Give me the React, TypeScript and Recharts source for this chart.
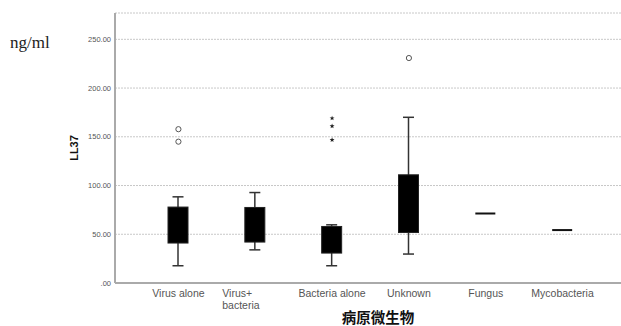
import React from "react";
import { ComposedChart, Bar, Scatter, XAxis, YAxis, CartesianGrid } from "recharts";

const categories = ["Virus alone", "Virus+\nbacteria", "Bacteria alone", "Unknown", "Fungus", "Mycobacteria"];
const whiskerLow = [17.7, 34, 17.7, 29.7, null, null];
const whiskerHigh = [88.4, 92.8, 59.7, 170, null, null];
const boxLow = [41, 42, 30.7, 51.8, 71.3, 54.3];
const boxHigh = [77.9, 77.5, 58, 111, 71.3, 54.3];
const circleOutlier1 = [157.8, null, null, 230.8, null, null];
const circleOutlier2 = [145, null, null, null, null, null];
const starOutlier1 = [null, null, 169, null, null, null];
const starOutlier2 = [null, null, 161, null, null, null];
const starOutlier3 = [null, null, 146.8, null, null, null];
const yTicks = [0, 50, 100, 150, 200, 250];

const data = categories.map((name, i) => ({
  name,
  wLow: whiskerLow[i],
  wHigh: whiskerHigh[i],
  bLow: boxLow[i],
  bHigh: boxHigh[i],
  c1: circleOutlier1[i],
  c2: circleOutlier2[i],
  s1: starOutlier1[i],
  s2: starOutlier2[i],
  s3: starOutlier3[i],
}));

const FONT = "'Liberation Sans', Arial, sans-serif";

const WhiskerShape = (props: any) => {
  const { x, y, width, height } = props;
  if (x == null || y == null || !isFinite(y) || !isFinite(height)) return null;
  const cx = x + width / 2;
  const top = Math.min(y, y + height);
  const bot = Math.max(y, y + height);
  return (
    <g stroke="#333" strokeWidth={1.5}>
      <line x1={cx} x2={cx} y1={top} y2={bot} />
      <line x1={cx - 5.5} x2={cx + 5.5} y1={top} y2={top} />
      <line x1={cx - 5.5} x2={cx + 5.5} y1={bot} y2={bot} />
    </g>
  );
};

const BoxShape = (props: any) => {
  const { x, y, width, height } = props;
  if (x == null || y == null || !isFinite(y)) return null;
  const top = Math.min(y, y + height);
  const h = Math.abs(height);
  if (h < 1) {
    return <line x1={x} x2={x + width} y1={y} y2={y} stroke="#111" strokeWidth={2} />;
  }
  return <rect x={x} y={top} width={width} height={h} fill="#000" stroke="#222" strokeWidth={1} />;
};

const CircleShape = (props: any) => {
  const { cx, cy } = props;
  if (cx == null || cy == null || !isFinite(cx) || !isFinite(cy)) return null;
  return <circle cx={cx} cy={cy} r={2.6} fill="#fff" stroke="#555" strokeWidth={1} />;
};

const StarShape = (props: any) => {
  const { cx, cy } = props;
  if (cx == null || cy == null || !isFinite(cx) || !isFinite(cy)) return null;
  const pts: string[] = [];
  for (let k = 0; k < 10; k++) {
    const r = k % 2 === 0 ? 2.6 : 1.1;
    const a = -Math.PI / 2 + (k * Math.PI) / 5;
    pts.push(`${cx + r * Math.cos(a)},${cy + r * Math.sin(a)}`);
  }
  return <polygon points={pts.join(" ")} fill="#222" />;
};

const XTick = (props: any) => {
  const { x, y, payload } = props;
  const lines = String(payload.value).split("\n");
  const multi = lines.length > 1;
  return (
    <g>
      {lines.map((ln, i) => (
        <text
          key={i}
          x={multi ? x - 33 : x}
          y={y + 11 + i * 12}
          textAnchor={multi ? "start" : "middle"}
          fontFamily={FONT}
          fontSize={10.5}
          fill="#555"
        >
          {ln}
        </text>
      ))}
    </g>
  );
};

const YTick = (props: any) => {
  const { x, y, payload } = props;
  return (
    <text x={x} y={y + 2.5} textAnchor="end" fontFamily={FONT} fontSize={7.5} fill="#555">
      {yFmt(payload.value)}
    </text>
  );
};

const yFmt = (v: number) => (v === 0 ? ".00" : v.toFixed(2));

export default function App() {
  return (
    <div style={{ position: "absolute", left: 0, top: 0, width: 621, height: 326, background: "#fff" }}>
      <ComposedChart
        width={621}
        height={326}
        data={data}
        margin={{ top: 13, right: 0, bottom: 13, left: 0 }}
      >
        <CartesianGrid vertical={false} stroke="#c8c8c8" strokeDasharray="2 1" />
        <XAxis
          dataKey="name"
          type="category"
          padding={{ left: 25, right: 20 }}
          height={30}
          tickLine={false}
          tickSize={0}
          tickMargin={3}
          axisLine={{ stroke: "#aaa", strokeWidth: 2 }}
          tick={<XTick />}
          interval={0}
        />
        <XAxis xAxisId="w" dataKey="name" type="category" hide padding={{ left: 25, right: 20 }} />
        <YAxis
          width={115}
          domain={[0, 277]}
          ticks={yTicks}
          tickLine={false}
          tickSize={0}
          tickMargin={4}
          axisLine={{ stroke: "#aaa", strokeWidth: 2 }}
          tick={<YTick />}
          allowDataOverflow
          label={{
            value: "LL37",
            angle: -90,
            position: "insideLeft",
            offset: 0,
            dx: 74,
            dy: 0,
            style: { fontFamily: FONT, fontSize: 11, fontWeight: "bold", fill: "#111", textAnchor: "middle" },
          }}
        />
        <Bar
          xAxisId="w"
          dataKey={(d: any) => (d.wLow == null ? null : [d.wLow, d.wHigh])}
          barSize={20}
          shape={<WhiskerShape />}
          isAnimationActive={false}
        />
        <Bar
          dataKey={(d: any) => [d.bLow, d.bHigh]}
          barSize={20}
          shape={<BoxShape />}
          isAnimationActive={false}
        />
        <Scatter dataKey="c1" shape={<CircleShape />} isAnimationActive={false} />
        <Scatter dataKey="c2" shape={<CircleShape />} isAnimationActive={false} />
        <Scatter dataKey="s1" shape={<StarShape />} isAnimationActive={false} />
        <Scatter dataKey="s2" shape={<StarShape />} isAnimationActive={false} />
        <Scatter dataKey="s3" shape={<StarShape />} isAnimationActive={false} />
        <text x={10} y={48} fontFamily="'Liberation Serif', 'Times New Roman', serif" fontSize={17} fill="#222">
          ng/ml
        </text>
        <text
          x={378}
          y={323}
          textAnchor="middle"
          fontFamily="'Noto Sans CJK SC', 'Noto Sans CJK JP', sans-serif"
          fontSize={14.5}
          fontWeight="bold"
          fill="#111"
        >
          病原微生物
        </text>
      </ComposedChart>
    </div>
  );
}
